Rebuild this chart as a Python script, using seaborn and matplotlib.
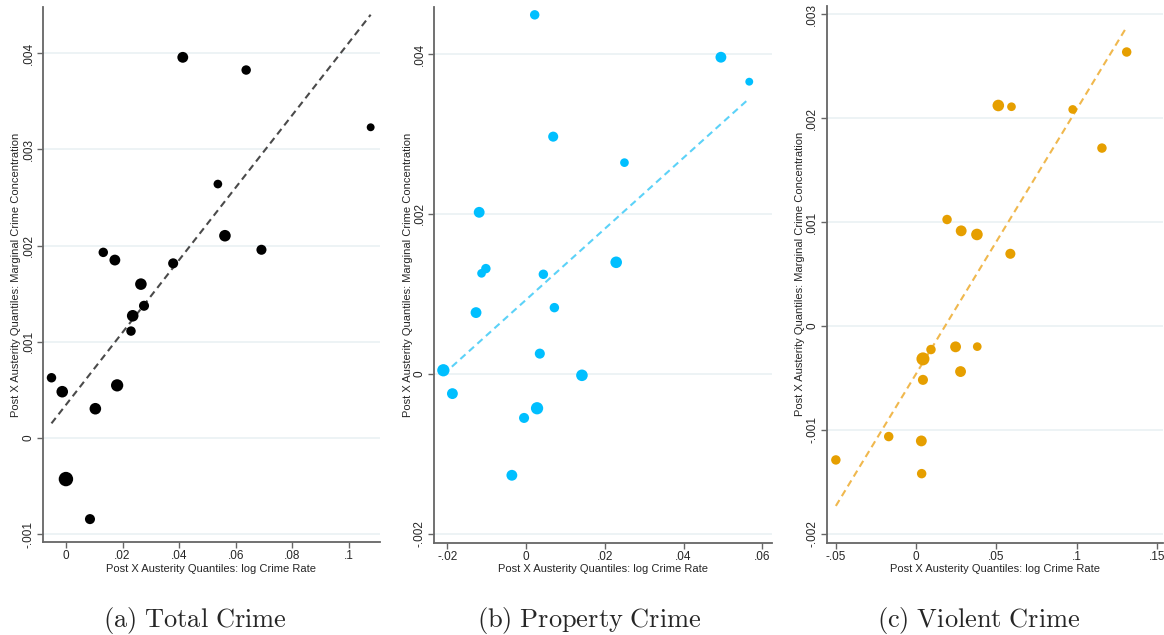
import numpy as np
import pandas as pd
import matplotlib
matplotlib.use("Agg")
import matplotlib.pyplot as plt
from matplotlib.ticker import FuncFormatter, FixedLocator
import seaborn as sns

# ---- Binned scatter data (x: log crime rate, y: marginal crime concentration) ----
total_x = [0.0413, 0.0637, 0.1077, 0.0537, 0.0562, 0.0691, 0.0132, 0.0173, 0.0265, 0.0379,
           0.0276, 0.0236, 0.0230, -0.0051, -0.0013, 0.0181, 0.0104, 0.0000, 0.0085]
total_y = [0.003957, 0.003825, 0.003230, 0.002640, 0.002103, 0.001957, 0.001930, 0.001850, 0.001600, 0.001816,
           0.001375, 0.001271, 0.001112, 0.000627, 0.000482, 0.000548, 0.000305, -0.000426, -0.000842]
total_w = [1.00, 0.76, 0.53, 0.64, 1.14, 0.86, 0.76, 1.00, 1.14, 0.86,
           0.86, 1.14, 0.76, 0.76, 1.14, 1.28, 1.14, 1.77, 0.86]

property_x = [0.0022, 0.0495, 0.0567, 0.0069, 0.0250, -0.0119, -0.0102, -0.0113, 0.0044, 0.0229,
              -0.0127, 0.0072, 0.0035, -0.0210, 0.0142, -0.0187, 0.0028, -0.0005, -0.0036]
property_y = [0.004490, 0.003960, 0.003654, 0.002967, 0.002642, 0.002021, 0.001317, 0.001258, 0.001246, 0.001396,
              0.000767, 0.000829, 0.000254, 0.000046, -0.000017, -0.000246, -0.000429, -0.000550, -0.001267]
property_w = [0.76, 1.00, 0.53, 0.86, 0.64, 1.00, 0.76, 0.64, 0.76, 1.14,
              1.00, 0.76, 0.86, 1.28, 1.14, 1.00, 1.28, 0.86, 1.00]

violent_x = [0.1312, 0.0513, 0.0595, 0.0976, 0.1158, 0.0194, 0.0282, 0.0380, 0.0588,
             0.0094, 0.0247, 0.0382, 0.0044, 0.0278, 0.0044, -0.0169, 0.0034, -0.0498, 0.0036]
violent_y = [0.002637, 0.002122, 0.002110, 0.002084, 0.001712, 0.001024, 0.000915, 0.000880, 0.000694,
             -0.000228, -0.000202, -0.000200, -0.000318, -0.000440, -0.000520, -0.001066, -0.001108, -0.001291, -0.001423]
violent_w = [0.76, 1.14, 0.64, 0.64, 0.76, 0.76, 1.00, 1.14, 0.86,
             0.76, 1.00, 0.64, 1.44, 1.00, 0.86, 0.76, 1.00, 0.76, 0.76]

# Linear fits: intercept, slope
total_fit = (0.000345, 0.03765)
property_fit = (0.000927, 0.0444)
violent_fit = (-0.000465, 0.02548)

captions = ["(a) Total Crime", "(b) Property Crime", "(c) Violent Crime"]
x_label = "Post X Austerity Quantiles: log Crime Rate"
y_label = "Post X Austerity Quantiles: Marginal Crime Concentration"

x_ticks = [[0, 0.02, 0.04, 0.06, 0.08, 0.1],
           [-0.02, 0, 0.02, 0.04, 0.06],
           [-0.05, 0, 0.05, 0.1, 0.15]]
y_ticks = [[-0.001, 0, 0.001, 0.002, 0.003, 0.004],
           [-0.002, 0, 0.002, 0.004],
           [-0.002, -0.001, 0, 0.001, 0.002, 0.003]]
x_lims = [(-0.0081, 0.111), (-0.0233, 0.0624), (-0.0555, 0.1538)]
y_lims = [(-0.00108, 0.00448), (-0.00211, 0.004588), (-0.002088, 0.00308)]

point_colors = ["#000000", "#00BFFF", "#E69F00"]
line_colors = ["#4a4a4a", "#5CD2F8", "#F0B84E"]

panels = [
    (total_x, total_y, total_w, total_fit),
    (property_x, property_y, property_w, property_fit),
    (violent_x, violent_y, violent_w, violent_fit),
]

sns.set_theme(style="white")
plt.rcParams["font.family"] = ["Liberation Sans", "DejaVu Sans"]
plt.rcParams["mathtext.fontset"] = "cm"

fig = plt.figure(figsize=(11.64, 6.35), dpi=100)
axes_boxes = [
    (43, 380, 7, 542),
    (434.3, 771.7, 7, 542.7),
    (826.7, 1163, 6, 542.7),
]
W, H = 1164, 635


def stata_fmt(v, _pos):
    if abs(v) < 1e-12:
        return "0"
    s = f"{v:.3f}".rstrip("0").rstrip(".")
    return s.replace("0.", ".", 1)


for i, ((xs, ys, ws, fit), box) in enumerate(zip(panels, axes_boxes)):
    l, r, t, b = box
    ax = fig.add_axes([l / W, 1 - b / H, (r - l) / W, (b - t) / H])
    df = pd.DataFrame({"x": xs, "y": ys, "w": ws})

    # horizontal grid lines
    for yt in y_ticks[i]:
        ax.axhline(yt, color="#EAF1F3", lw=1.2, zorder=0)

    # fitted line over the range of the binned points
    a, slope = fit
    fx = np.array([df["x"].min(), df["x"].max()])
    fit_df = pd.DataFrame({"x": fx, "y": a + slope * fx})
    sns.lineplot(data=fit_df, x="x", y="y", ax=ax, color=line_colors[i],
                 lw=1.5, linestyle=(0, (3.3, 2.2)), zorder=2)

    sns.scatterplot(data=df, x="x", y="y", size="w", sizes=(0, 122),
                    size_norm=(0, 2), color=point_colors[i], edgecolor="none",
                    legend=False, ax=ax, zorder=3)

    ax.set_xlim(*x_lims[i])
    ax.set_ylim(*y_lims[i])
    ax.xaxis.set_major_locator(FixedLocator(x_ticks[i]))
    ax.yaxis.set_major_locator(FixedLocator(y_ticks[i]))
    ax.xaxis.set_major_formatter(FuncFormatter(stata_fmt))
    ax.yaxis.set_major_formatter(FuncFormatter(stata_fmt))
    ax.tick_params(axis="both", which="major", length=4, width=1.0, color="#666666",
                   labelsize=8.5, pad=2, direction="out", bottom=True, left=True)
    for lab in ax.get_yticklabels():
        lab.set_rotation(90)
        lab.set_va("center")
    sns.despine(ax=ax)
    for side in ("left", "bottom"):
        ax.spines[side].set_color("#666666")
        ax.spines[side].set_linewidth(1.3)
    ax.set_xlabel(x_label, fontsize=8, labelpad=1)
    ax.set_ylabel(y_label, fontsize=8, labelpad=1)

    cx = [195, 589, 979][i]
    fig.text(cx / W, 1 - 620 / H, r"$\mathrm{" + captions[i].replace(" ", r"\ ") + "}$",
             ha="center", va="center", fontsize=19)

fig.savefig("out.png", dpi=100)
